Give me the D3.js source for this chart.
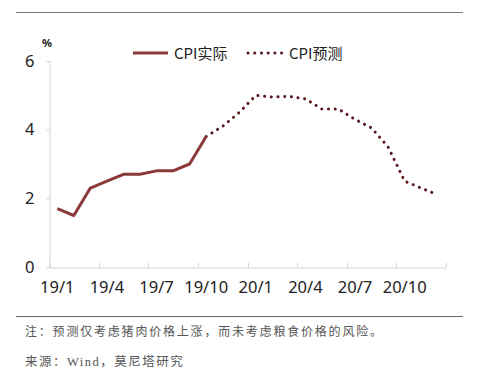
<!DOCTYPE html>
<html>
<head>
<meta charset="utf-8">
<script src="https://cdn.jsdelivr.net/npm/d3@7"></script>
<style>
  body { margin: 0; background: #fff; }
  svg { display: block; }
</style>
</head>
<body>
<div id="chart"></div>
<script>
// months shown on the category axis (Jan 2019 - Dec 2020)
var months = ['19/1','19/2','19/3','19/4','19/5','19/6','19/7','19/8','19/9','19/10','19/11','19/12',
              '20/1','20/2','20/3','20/4','20/5','20/6','20/7','20/8','20/9','20/10','20/11','20/12'];
var quarterLabels = ['19/1','19/4','19/7','19/10','20/1','20/4','20/7','20/10'];
var yTicks = [0, 2, 4, 6];

// CPI actual, 19/1 - 19/10
var actualMonths = months.slice(0, 10);
var actual = [1.7, 1.5, 2.3, 2.5, 2.7, 2.7, 2.8, 2.8, 3.0, 3.8];

// CPI forecast, 19/10 - 20/12
var forecastMonths = months.slice(9);
var forecast = [3.8, 4.1, 4.5, 5.0, 4.95, 4.97, 4.9, 4.6, 4.6, 4.3, 4.05, 3.5, 2.5, 2.3, 2.1];

var legendNames = ['CPI实际', 'CPI预测'];
var noteText = '注：预测仅考虑猪肉价格上涨，而未考虑粮食价格的风险。';
var sourceText = '来源：Wind，莫尼塔研究';

var W = 500, H = 375;
var lineColor = '#8b3a3a';
var dotColor = '#5a1a1e';

var svg = d3.select('#chart').append('svg')
    .attr('width', W)
    .attr('height', H);

// top and bottom rules
svg.append('line').attr('x1', 16).attr('x2', 463).attr('y1', 12.5).attr('y2', 12.5)
    .attr('stroke', '#7a7a7a').attr('stroke-width', 1);
svg.append('line').attr('x1', 16).attr('x2', 463).attr('y1', 316.5).attr('y2', 316.5)
    .attr('stroke', '#6a6a6a').attr('stroke-width', 1);

var x = d3.scaleBand().domain(months).range([49, 446]).padding(0);
var y = d3.scaleLinear().domain([0, 6]).range([267, 61]);
var cx = function(m) { return x(m) + x.bandwidth() / 2; };

// y axis
var yAxis = svg.append('g').attr('transform', 'translate(49.5,0)')
    .call(d3.axisLeft(y).tickValues(yTicks).tickSize(3).tickPadding(12).tickFormat(d3.format('d')));
yAxis.select('.domain').attr('stroke', '#d4d4d4');
yAxis.selectAll('.tick line').attr('stroke', '#d4d4d4');
yAxis.selectAll('.tick text')
    .attr('font-family', '"Noto Sans", sans-serif')
    .attr('font-size', 16.5)
    .attr('fill', '#222');

svg.append('text').attr('x', 47).attr('y', 47)
    .attr('text-anchor', 'middle')
    .attr('font-family', '"Noto Sans", sans-serif')
    .attr('font-size', 11).attr('font-weight', 'bold')
    .attr('fill', '#222')
    .text('%');

// x axis: labels at the first month of each quarter
var xAxis = svg.append('g').attr('transform', 'translate(0,267.5)')
    .call(d3.axisBottom(x).tickValues(quarterLabels).tickSize(0).tickPadding(14));
xAxis.select('.domain').attr('stroke', '#d4d4d4');
xAxis.selectAll('.tick text')
    .attr('font-family', '"Noto Sans", sans-serif')
    .attr('font-size', 16.5)
    .attr('fill', '#222');

// quarter boundary ticks pointing up
var tickPos = months.filter(function(m, i) { return i % 3 === 0; }).map(function(m) { return x(m); });
tickPos.push(x.range()[1]);
svg.append('g').selectAll('line').data(tickPos).join('line')
    .attr('x1', function(d) { return Math.round(d) + 0.5; })
    .attr('x2', function(d) { return Math.round(d) + 0.5; })
    .attr('y1', 267).attr('y2', 263)
    .attr('stroke', '#d4d4d4');

// lines
var lineGen = d3.line()
    .x(function(d) { return cx(d[0]); })
    .y(function(d) { return y(d[1]); });

svg.append('path')
    .datum(d3.zip(forecastMonths, forecast))
    .attr('d', lineGen)
    .attr('fill', 'none')
    .attr('stroke', dotColor)
    .attr('stroke-width', 3)
    .attr('stroke-linecap', 'round')
    .attr('stroke-dasharray', '0.1,6.6');

svg.append('path')
    .datum(d3.zip(actualMonths, actual))
    .attr('d', lineGen)
    .attr('fill', 'none')
    .attr('stroke', lineColor)
    .attr('stroke-width', 3)
    .attr('stroke-linejoin', 'round');

// legend
var legFont = '"Liberation Sans Narrow", "Noto Sans CJK SC", sans-serif';
svg.append('line').attr('x1', 133).attr('x2', 168).attr('y1', 53).attr('y2', 53)
    .attr('stroke', lineColor).attr('stroke-width', 3);
svg.append('text').attr('x', 174).attr('y', 58.5)
    .attr('font-family', legFont).attr('font-size', 15).attr('fill', '#222')
    .text(legendNames[0]);
svg.append('line').attr('x1', 248).attr('x2', 288).attr('y1', 53).attr('y2', 53)
    .attr('stroke', dotColor).attr('stroke-width', 3)
    .attr('stroke-linecap', 'round').attr('stroke-dasharray', '0.1,6.6');
svg.append('text').attr('x', 289).attr('y', 58.5)
    .attr('font-family', legFont).attr('font-size', 15).attr('fill', '#222')
    .text(legendNames[1]);

// footnotes
var noteFont = '"Liberation Serif", "Noto Sans CJK SC", serif';
svg.append('text').attr('x', 25).attr('y', 336)
    .attr('font-family', noteFont).attr('font-size', 12)
    .attr('letter-spacing', 1.8).attr('fill', '#555')
    .text(noteText);
svg.append('text').attr('x', 25).attr('y', 366)
    .attr('font-family', noteFont).attr('font-size', 12.5)
    .attr('letter-spacing', 1.5).attr('fill', '#555')
    .text(sourceText);
</script>
</body>
</html>
